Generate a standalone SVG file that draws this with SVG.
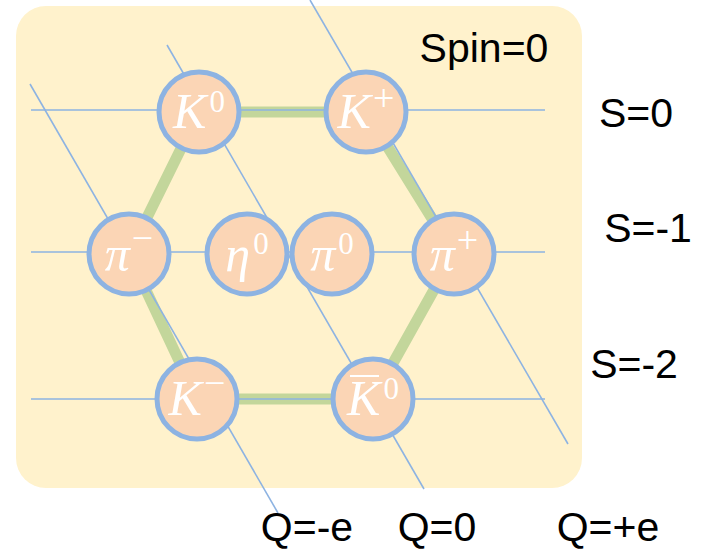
<svg xmlns="http://www.w3.org/2000/svg" width="702" height="557" viewBox="0 0 702 557">
<style>
.bg{fill:#fff2cc}
.hex{fill:none;stroke:#c3d69b;stroke-width:11;stroke-linejoin:miter}
.grid{stroke:#8db3e2;stroke-width:1.6;fill:none}
.node circle{fill:#fbd5b5;stroke:#8db3e2;stroke-width:5}
.node text{font-family:"Liberation Serif","DejaVu Serif",serif;fill:#ffffff;text-anchor:middle}
.bar{stroke:#ffffff;stroke-width:2}
.m{font-style:italic;font-size:50px}
.s{font-size:31px}
.g{font-size:38px}
.lbl{font-family:"Liberation Sans",Arial,sans-serif;font-size:41px;fill:#000;text-anchor:middle}
</style>
<rect class="bg" x="16" y="6" width="566" height="482" rx="30" ry="30"/>
<g id="connectors">
<polygon class="hex" points="199,112 366,112 454,254 373,399 197,399 129,254"/>
<line class="grid" x1="31" y1="110" x2="545" y2="110"/>
<line class="grid" x1="31" y1="252" x2="545" y2="252"/>
<line class="grid" x1="31" y1="399" x2="545" y2="399"/>
<line class="grid" x1="30" y1="84" x2="278" y2="513"/>
<line class="grid" x1="167" y1="45" x2="424" y2="489"/>
<line class="grid" x1="310" y1="0" x2="568" y2="444"/>
</g>
<g id="K0" class="node"><circle cx="199" cy="112" r="40"/><text x="199" y="128"><tspan class="m">K</tspan><tspan class="s" dx="3" dy="-16">0</tspan></text></g>
<g id="Kplus" class="node"><circle cx="366" cy="112" r="40"/><text x="366" y="128"><tspan class="m">K</tspan><tspan class="g" dx="2" dy="-17">+</tspan></text></g>
<g id="piminus" class="node"><circle cx="129" cy="254" r="40"/><text x="129" y="271"><tspan class="m">π</tspan><tspan class="g" dx="2" dy="-20">−</tspan></text></g>
<g id="eta0" class="node"><circle cx="247" cy="254" r="40"/><text x="247" y="271"><tspan class="m">η</tspan><tspan class="s" dx="3" dy="-17">0</tspan></text></g>
<g id="pi0" class="node"><circle cx="332" cy="254" r="40"/><text x="332" y="271"><tspan class="m">π</tspan><tspan class="s" dx="3" dy="-17">0</tspan></text></g>
<g id="piplus" class="node"><circle cx="454" cy="254" r="40"/><text x="454" y="271"><tspan class="m">π</tspan><tspan class="g" dx="2" dy="-18">+</tspan></text></g>
<g id="Kminus" class="node"><circle cx="197" cy="399" r="40"/><text x="197" y="415"><tspan class="m">K</tspan><tspan class="g" dx="2" dy="-19">−</tspan></text></g>
<g id="K0bar" class="node"><circle cx="373" cy="399" r="40"/><line class="bar" x1="350" y1="376" x2="379" y2="376"/><text x="373" y="415"><tspan class="m">K</tspan><tspan class="s" dx="3" dy="-16">0</tspan></text></g>
<g id="labels">
<text class="lbl" x="484" y="62">Spin=0</text>
<text class="lbl" x="636" y="127">S=0</text>
<text class="lbl" x="648" y="242">S=-1</text>
<text class="lbl" x="634" y="378">S=-2</text>
<text class="lbl" x="307" y="541">Q=-e</text>
<text class="lbl" x="437" y="541">Q=0</text>
<text class="lbl" x="608" y="541">Q=+e</text>
</g>
</svg>
